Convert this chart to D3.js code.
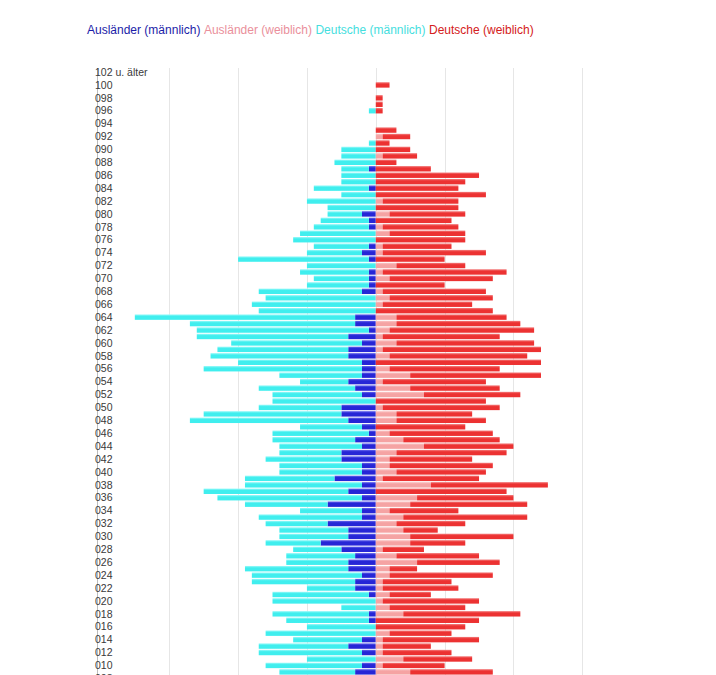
<!DOCTYPE html>
<html>
<head>
<meta charset="utf-8">
<script src="https://cdn.jsdelivr.net/npm/d3@7"></script>
<style>
  body { margin: 0; background: #fff; }
  text { font-family: "Liberation Sans", Arial, Helvetica, sans-serif; }
</style>
</head>
<body>
<div id="chart"></div>
<script>
// age rows, top to bottom (first row is the open-ended class)
var ages = ["102 u. älter"];
for (var a = 101; a >= 0; a--) ages.push(d3.format("03d")(a));

// values per row, 102 u. älter down to 009 (rows below are cut off in the picture)
var auslaenderM = [0,0,0,0,0,0,0,0,0,0, 0,0,0,0,0,1,0,0,1,0, 0,0,2,1,1,0,0,1,2,1, 0,1,1,1,2,0,0,0,3,3, 1,4,2,4,4,2,2,2,4,3, 2,0,5,5,4,2,1,3,2,5, 5,2,2,6,2,4,2,7,2,2, 7,4,4,8,5,3,4,4,2,3, 3,1,0,0,1,1,0,0,2,4, 2,0,2,3];
var deutscheM   = [0,0,0,0,0,0,1,0,0,0, 0,1,5,5,6,4,5,5,8,5, 10,7,5,7,8,11,12,8,8,19, 10,10,8,9,15,16,18,17,32,24, 25,22,19,19,20,18,23,12,7,14, 13,15,12,20,23,9,14,12,12,9, 11,12,12,13,17,21,21,12,9,15, 9,10,10,8,7,10,9,15,16,15, 7,14,15,5,14,12,10,16,10,13, 15,10,14,11];
var auslaenderW = [0,0,0,0,0,0,0,0,0,0, 1,0,0,1,0,0,0,0,0,0, 1,0,2,0,1,2,0,1,1,0, 3,1,2,0,1,2,1,0,3,3, 2,1,3,1,2,0,2,5,1,5, 7,0,1,3,3,0,2,4,7,3, 2,2,3,1,8,0,6,5,2,4, 3,4,5,5,1,3,6,2,2,1, 1,2,1,2,4,0,0,2,1,1, 1,4,1,5];
var deutscheW   = [0,0,2,0,1,1,1,0,0,3, 4,2,5,5,3,8,15,13,12,16, 11,12,11,11,11,11,13,10,15,10, 10,18,15,10,15,15,13,17,16,18, 21,17,20,23,20,24,16,19,15,13, 14,16,17,11,13,13,15,14,13,16, 12,15,13,14,17,19,14,17,10,18, 10,5,15,8,6,12,12,4,15,10, 11,6,14,11,17,15,13,9,14,7, 10,10,9,12];

var seriesNames  = ["Ausländer (männlich)", "Ausländer (weiblich)", "Deutsche (männlich)", "Deutsche (weiblich)"];
var legendColors = ["#1c1ca8", "#ea8f9b", "#45dede", "#d42020"];
var xTicks = [-40, -30, -20, -10, 0, 10, 20, 30];

var width = 716, height = 675;

var svg = d3.select("#chart").append("svg")
    .attr("width", width)
    .attr("height", height);

// bar gradients: lighter stripe along the top edge
var defs = svg.append("defs");
var fills = [
    {id: "gAM", light: "#6a6aee", base: "#2626d6"},
    {id: "gAW", light: "#fbc6c6", base: "#f5a3a3"},
    {id: "gDM", light: "#9cfafa", base: "#40eeee"},
    {id: "gDW", light: "#f48080", base: "#ec3232"}
];
fills.forEach(function(f) {
    var g = defs.append("linearGradient").attr("id", f.id)
        .attr("x1", 0).attr("y1", 0).attr("x2", 0).attr("y2", 1);
    g.append("stop").attr("offset", "0%").attr("stop-color", f.light);
    g.append("stop").attr("offset", "35%").attr("stop-color", f.base);
    g.append("stop").attr("offset", "100%").attr("stop-color", f.base);
});

var x = d3.scaleLinear().domain([-40, 30]).range([100.4, 582.3]);

var rowStep = 6.45;
var y = d3.scaleBand()
    .domain(ages)
    .range([68.8, 68.8 + rowStep * ages.length])
    .paddingInner(0.16)
    .paddingOuter(0.08);

// grid
svg.append("g").selectAll("line")
    .data(xTicks.slice(1))
    .join("line")
    .attr("x1", d => Math.round(x(d)) + 0.5)
    .attr("x2", d => Math.round(x(d)) + 0.5)
    .attr("y1", 68)
    .attr("y2", height)
    .attr("stroke", "#e6e6e6")
    .attr("stroke-width", 1);

// rows that carry data
var rows = auslaenderM.map(function(v, i) {
    return {age: ages[i], am: v, dm: deutscheM[i], aw: auslaenderW[i], dw: deutscheW[i]};
});

var segs = [];
rows.forEach(function(r) {
    segs.push({age: r.age, x0: -r.am, x1: 0, fill: "gAM"});
    segs.push({age: r.age, x0: -(r.am + r.dm), x1: -r.am, fill: "gDM"});
    segs.push({age: r.age, x0: 0, x1: r.aw, fill: "gAW"});
    segs.push({age: r.age, x0: r.aw, x1: r.aw + r.dw, fill: "gDW"});
});

svg.append("g").selectAll("rect")
    .data(segs.filter(d => d.x1 > d.x0))
    .join("rect")
    .attr("x", d => x(d.x0))
    .attr("width", d => x(d.x1) - x(d.x0))
    .attr("y", d => y(d.age))
    .attr("height", y.bandwidth())
    .attr("fill", d => "url(#" + d.fill + ")");

// y axis line + labels (every second row shown)
svg.append("line")
    .attr("x1", 97.5).attr("x2", 97.5)
    .attr("y1", 68).attr("y2", height)
    .attr("stroke", "#bdbdbd");

svg.append("g").selectAll("text")
    .data(ages.filter((d, i) => i % 2 === 0))
    .join("text")
    .attr("x", 95)
    .attr("y", d => y(d) + y.bandwidth() / 2)
    .attr("dy", "0.35em")
    .attr("font-size", 10.5)
    .attr("fill", "#3a3a3a")
    .text(d => d);

// legend
var lx = 87;
var legend = svg.append("g");
seriesNames.forEach(function(name, i) {
    var t = legend.append("text")
        .attr("x", lx)
        .attr("y", 34)
        .attr("font-size", 12)
        .attr("fill", legendColors[i])
        .text(name);
    lx += t.node().getComputedTextLength() + 3.5;
});
</script>
</body>
</html>
